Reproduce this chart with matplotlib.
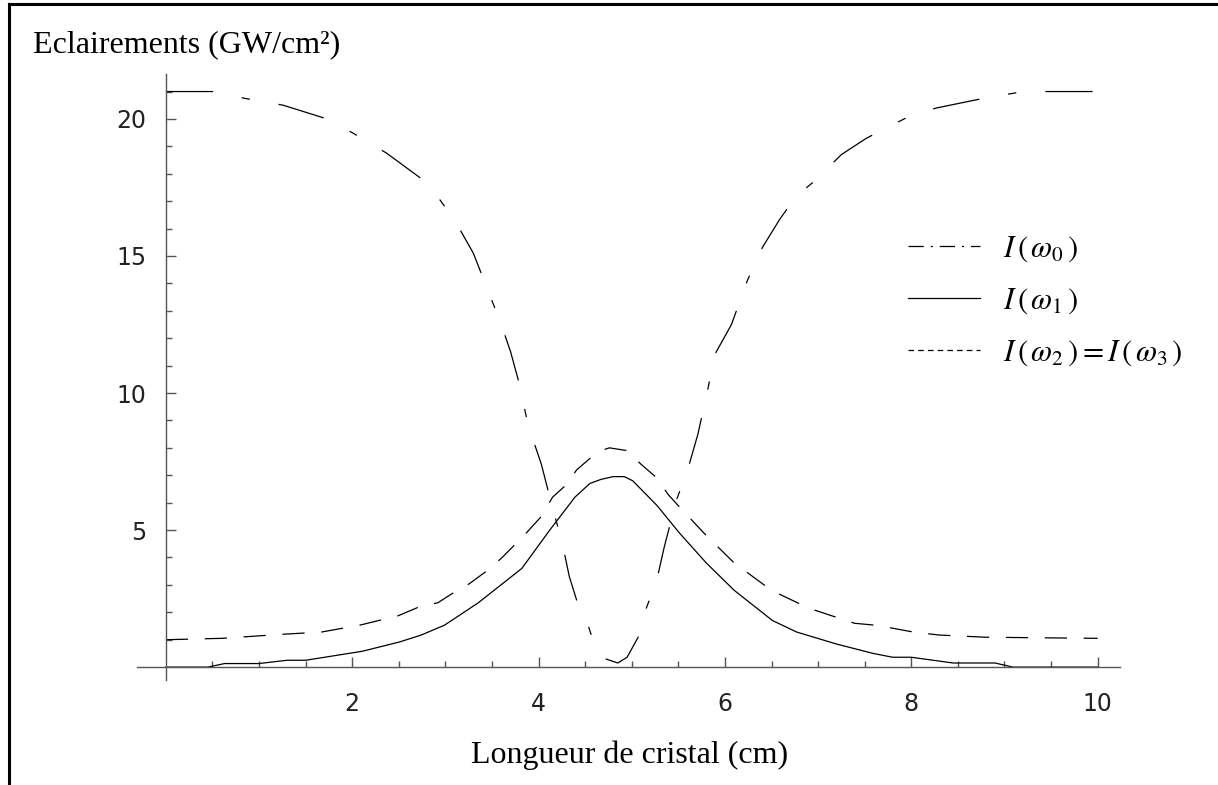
import matplotlib
matplotlib.use("Agg")
import matplotlib.pyplot as plt
from matplotlib.lines import Line2D

plt.rcParams["mathtext.fontset"] = "stix"
plt.rcParams["lines.scale_dashes"] = False

# I(omega0) : pump, dash-dot
x0 = [0, 0.5, 0.85, 1.26, 1.73, 2.0, 2.37, 2.75, 2.93, 3.1, 3.3, 3.45, 3.6, 3.7,
      3.78, 3.89, 4.03, 4.15, 4.25, 4.33, 4.44, 4.52, 4.62, 4.72, 4.85, 4.95,
      5.07, 5.14, 5.27, 5.35, 5.48, 5.6, 5.71, 5.82, 5.89, 6.07, 6.24, 6.4,
      6.59, 6.77, 6.95, 7.25, 7.52, 7.98, 8.27, 8.7, 9.2, 10]
y0 = [21.0, 21.0, 20.75, 20.5, 20.0, 19.5, 18.75, 17.8, 17.1, 16.3, 15.1, 13.8,
      12.5, 11.5, 10.5, 8.8, 7.4, 5.8, 4.6, 3.3, 2.1, 1.65, 0.6, 0.3, 0.15,
      0.36, 1.1, 2.0, 3.2, 4.4, 6.1, 7.2, 8.5, 10.2, 11.4, 12.5, 14.1, 15.3,
      16.35, 17.2, 17.7, 18.7, 19.3, 20.1, 20.4, 20.7, 21.0, 21.0]

# I(omega1) : solid
x1 = [0, 0.45, 0.63, 1.0, 1.3, 1.5, 2.11, 2.51, 2.74, 2.99, 3.35, 3.82, 4.12,
      4.39, 4.55, 4.67, 4.8, 4.92, 5.01, 5.27, 5.51, 5.8, 6.1, 6.51, 6.77, 7.2,
      7.59, 7.8, 8.0, 8.45, 8.9, 9.09, 10]
y1 = [0, 0, 0.13, 0.13, 0.25, 0.25, 0.58, 0.92, 1.17, 1.53, 2.34, 3.6, 5.0,
      6.2, 6.7, 6.85, 6.95, 6.95, 6.8, 5.9, 4.9, 3.8, 2.8, 1.7, 1.28, 0.84,
      0.5, 0.36, 0.36, 0.15, 0.15, 0, 0]

# I(omega2) = I(omega3) : dashed
x2 = [0, 0.6, 1.26, 1.67, 2.08, 2.49, 2.72, 2.92, 3.08, 3.26, 3.44, 3.6, 3.74,
      3.87, 4.03, 4.15, 4.28, 4.41, 4.58, 4.67, 4.76, 4.95, 5.1, 5.27, 5.39,
      5.51, 5.8, 6.1, 6.5, 6.9, 7.39, 7.61, 7.8, 8.02, 8.3, 8.8, 10]
y2 = [1.0, 1.05, 1.2, 1.28, 1.53, 1.87, 2.2, 2.35, 2.7, 3.05, 3.5, 3.97, 4.45,
      4.9, 5.5, 6.2, 6.6, 7.2, 7.7, 7.9, 8.0, 7.9, 7.4, 6.9, 6.3, 5.85, 4.8,
      3.8, 2.8, 2.15, 1.6, 1.53, 1.42, 1.28, 1.17, 1.09, 1.05]

labels = [r"$I\,\left(\,\omega_0\,\right)$", r"$I\,\left(\,\omega_1\,\right)$",
          r"$I\,\left(\,\omega_2\,\right)=I\,\left(\,\omega_3\,\right)$"]

W, H = 1218, 785
fig = plt.figure(figsize=(W / 100, H / 100), dpi=100)
ax = fig.add_axes([137 / W, 1 - 680 / H, 983 / W, 606 / H])

lw = 0.9
ax.plot(x0, y0, color="black", lw=lw, dashes=(34, 21, 6, 21))
ax.plot(x1, y1, color="black", lw=lw)
ax.plot(x2, y2, color="black", lw=lw, dashes=(16, 12))

ax.set_xlim(-0.31, 10.24)
ax.set_ylim(-0.47, 21.64)

for s in ["top", "right"]:
    ax.spines[s].set_visible(False)
ax.spines["left"].set_position(("data", 0))
ax.spines["bottom"].set_position(("data", 0))
for s in ["left", "bottom"]:
    ax.spines[s].set_color("#555555")
    ax.spines[s].set_linewidth(1.0)

ax.set_xticks([2, 4, 6, 8, 10])
ax.set_xticks([0.5, 1, 1.5, 2.5, 3, 3.5, 4.5, 5, 5.5, 6.5, 7, 7.5, 8.5, 9, 9.5], minor=True)
ax.set_yticks([5, 10, 15, 20])
ax.set_yticks([1, 2, 3, 4, 6, 7, 8, 9, 11, 12, 13, 14, 16, 17, 18, 19, 21], minor=True)

ax.tick_params(axis="x", which="major", direction="in", length=7, width=1,
               color="#555555", pad=18, labelsize=17, labelcolor="#222222")
ax.tick_params(axis="x", which="minor", direction="in", length=4, width=1,
               color="#555555")
ax.tick_params(axis="y", which="major", direction="in", length=7, width=1,
               color="#555555", pad=14, labelsize=17, labelcolor="#222222")
ax.tick_params(axis="y", which="minor", direction="in", length=4, width=1,
               color="#555555")

fig.text(33 / W, 1 - 52 / H, "Eclairements (GW/cm²)", family="Liberation Serif",
         fontsize=23, va="baseline", ha="left")
fig.text(630 / W, 1 - 763 / H, "Longueur de cristal (cm)", family="Liberation Serif",
         fontsize=23, va="baseline", ha="center")

handles = [
    Line2D([], [], color="black", lw=lw, dashes=(11, 5, 1.5, 5)),
    Line2D([], [], color="black", lw=lw),
    Line2D([], [], color="black", lw=lw, dashes=(4, 3)),
]
ax.legend(handles, labels, loc="upper left", bbox_to_anchor=(908 / W, 1 - 234 / H),
          bbox_transform=fig.transFigure, frameon=False, fontsize=22,
          handlelength=2.35, handletextpad=0.75, labelspacing=0.7, borderpad=0,
          borderaxespad=0)

# page frame
fig.add_artist(Line2D([9 / W, 9 / W], [0, 1 - 4 / H], color="black", lw=2.2))
fig.add_artist(Line2D([9 / W, 1], [1 - 4 / H, 1 - 4 / H], color="black", lw=2.2))

fig.savefig("out.png", dpi=100)
